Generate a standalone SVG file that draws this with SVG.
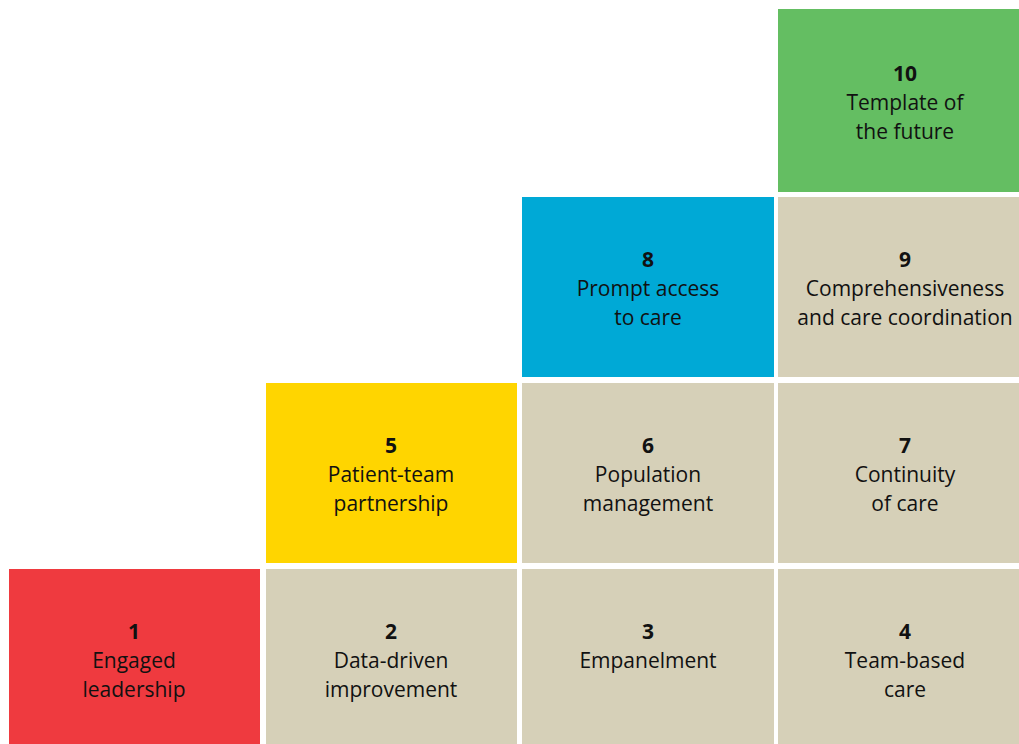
<svg xmlns="http://www.w3.org/2000/svg" width="1019" height="744" viewBox="0 0 1019 744">
<style>
.t{font-family:"Open Sans","Noto Sans",sans-serif;font-size:21px;fill:#111;text-anchor:middle}
.b{font-weight:bold}
.g{fill:#D6D0B8}
</style>
<rect width="1019" height="744" fill="#fff"/>
<g id="n1"><rect x="9" y="569" width="251" height="175" fill="#EF3A3F"/><text class="t" x="134" y="639"><tspan class="b">1</tspan><tspan x="134" dy="29">Engaged</tspan><tspan x="134" dy="29">leadership</tspan></text></g>
<g id="n2"><rect class="g" x="266" y="569" width="251" height="175"/><text class="t" x="391" y="639"><tspan class="b">2</tspan><tspan x="391" dy="29">Data-driven</tspan><tspan x="391" dy="29">improvement</tspan></text></g>
<g id="n3"><rect class="g" x="522" y="569" width="252" height="175"/><text class="t" x="648" y="639"><tspan class="b">3</tspan><tspan x="648" dy="29">Empanelment</tspan></text></g>
<g id="n4"><rect class="g" x="778" y="569" width="241" height="175"/><text class="t" x="905" y="639"><tspan class="b">4</tspan><tspan x="905" dy="29">Team-based</tspan><tspan x="905" dy="29">care</tspan></text></g>
<g id="n5"><rect x="266" y="383" width="251" height="180" fill="#FFD500"/><text class="t" x="391" y="453"><tspan class="b">5</tspan><tspan x="391" dy="29">Patient-team</tspan><tspan x="391" dy="29">partnership</tspan></text></g>
<g id="n6"><rect class="g" x="522" y="383" width="252" height="180"/><text class="t" x="648" y="453"><tspan class="b">6</tspan><tspan x="648" dy="29">Population</tspan><tspan x="648" dy="29">management</tspan></text></g>
<g id="n7"><rect class="g" x="778" y="383" width="241" height="180"/><text class="t" x="905" y="453"><tspan class="b">7</tspan><tspan x="905" dy="29">Continuity</tspan><tspan x="905" dy="29">of care</tspan></text></g>
<g id="n8"><rect x="522" y="197" width="252" height="180" fill="#00A9D6"/><text class="t" x="648" y="267"><tspan class="b">8</tspan><tspan x="648" dy="29">Prompt access</tspan><tspan x="648" dy="29">to care</tspan></text></g>
<g id="n9"><rect class="g" x="778" y="197" width="241" height="180"/><text class="t" x="905" y="267"><tspan class="b">9</tspan><tspan x="905" dy="29">Comprehensiveness</tspan><tspan x="905" dy="29">and care coordination</tspan></text></g>
<g id="n10"><rect x="778" y="9" width="241" height="183" fill="#64BE62"/><text class="t" x="905" y="81"><tspan class="b">10</tspan><tspan x="905" dy="29">Template of</tspan><tspan x="905" dy="29">the future</tspan></text></g>
<g id="connectors"/>
</svg>
